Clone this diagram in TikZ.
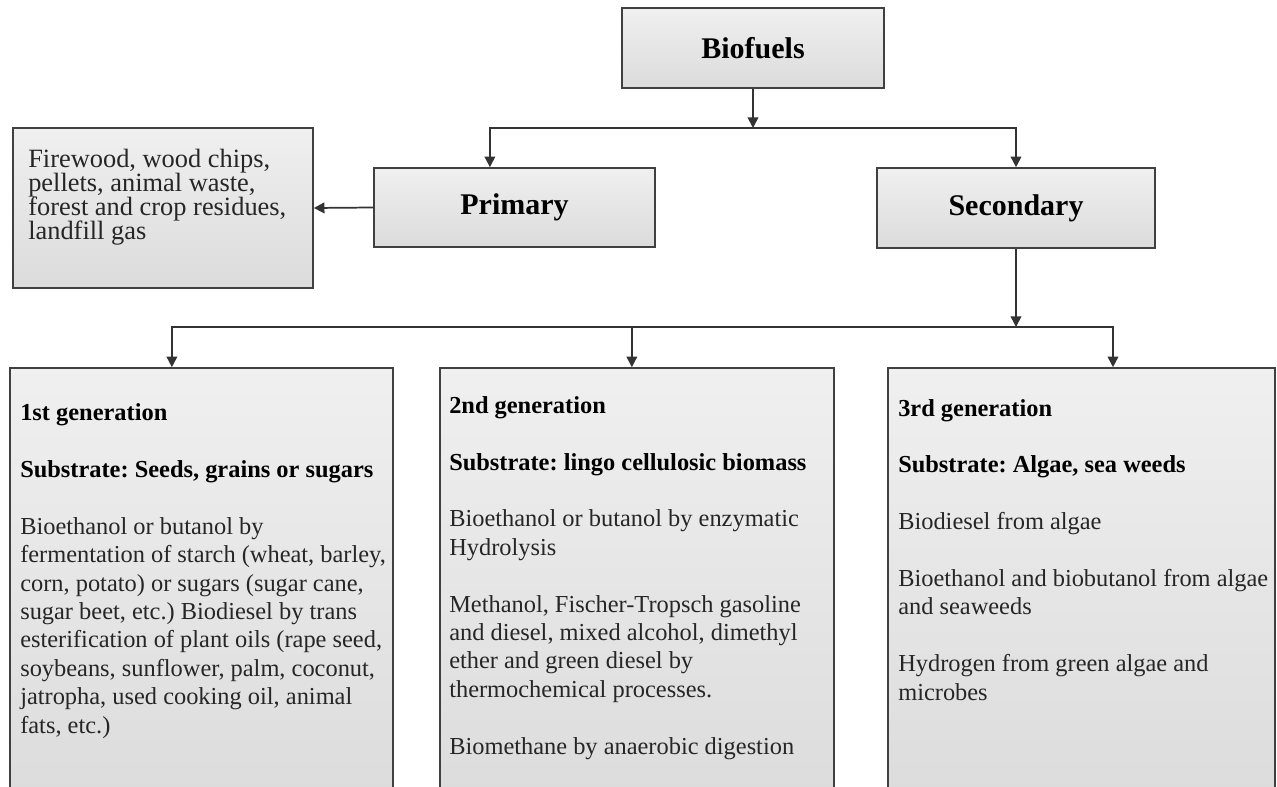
\documentclass[tikz,border=0pt]{standalone}
\usepackage{fontspec}
\setmainfont{Liberation Serif}
\usetikzlibrary{arrows.meta,calc}
\frenchspacing
\begin{document}
\begin{tikzpicture}[x=0.75pt,y=-0.75pt,
  box/.style={draw=black!75, line width=1.2pt, top color=black!6, bottom color=black!14, inner sep=0pt},
  title/.style={font=\fontsize{22.5}{27}\selectfont\bfseries},
  conn/.style={line width=1.3pt, draw=black!80, -{Triangle[length=8pt,width=8pt]}},
  txt/.style={align=left, anchor=base west, inner sep=0pt, text=black!85, font=\fontsize{18.3}{21.3}\selectfont},
  ltxt/.style={align=left, anchor=base west, inner sep=0pt, text=black!85, font=\fontsize{19.8}{18.2}\selectfont}]
\clip (0,0) rectangle (1277,787);
\fill[white] (0,0) rectangle (1277,787);

% top level
\node[box, minimum width=196.5pt, minimum height=60pt, title] (bio) at (753,48) {Biofuels};
\node[box, minimum width=210.75pt, minimum height=59.25pt, title] (prim) at (514.5,207.5) {Primary};
\node[box, minimum width=208.5pt, minimum height=60pt, title] (sec) at (1016,208) {Secondary};
\node[box, minimum width=225pt, minimum height=120pt] (left) at (163,208) {};
% anchor is the baseline of the last line
\node[ltxt] (lefttxt) at (28,240) {Firewood, wood chips,\\pellets, animal waste,\\forest and crop residues,\\landfill gas};

% generation boxes
\node[box, minimum width=287.25pt, minimum height=331.5pt] (b1) at (201.5,589) {};
\node[box, minimum width=295.5pt, minimum height=331.5pt] (b2) at (637,589) {};
\node[box, minimum width=290.25pt, minimum height=331.5pt] (b3) at (1081.5,589) {};

\node[txt] (t1) at (20,733) {\textbf{\color{black}1st generation}\\[21.3pt]
\textbf{\color{black}Substrate: Seeds, grains or sugars}\\[21.3pt]
Bioethanol or butanol by\\
fermentation of starch (wheat, barley,\\
corn, potato) or sugars (sugar cane,\\
sugar beet, etc.) Biodiesel by trans\\
esterification of plant oils (rape seed,\\
soybeans, sunflower, palm, coconut,\\
jatropha, used cooking oil, animal\\
fats, etc.)};

\node[txt] (t2) at (449,754) {\textbf{\color{black}2nd generation}\\[21.3pt]
\textbf{\color{black}Substrate: lingo cellulosic biomass}\\[21.3pt]
Bioethanol or butanol by enzymatic\\
Hydrolysis\\[21.3pt]
Methanol, Fischer-Tropsch gasoline\\
and diesel, mixed alcohol, dimethyl\\
ether and green diesel by\\
thermochemical processes.\\[21.3pt]
Biomethane by anaerobic digestion};

\node[txt] (t3) at (898,700) {\textbf{\color{black}3rd generation}\\[21.3pt]
\textbf{\color{black}Substrate: Algae, sea weeds}\\[21.3pt]
Biodiesel from algae\\[21.3pt]
Bioethanol and biobutanol from algae\\
and seaweeds\\[21.3pt]
Hydrogen from green algae and\\
microbes};

% connectors
\coordinate (h1) at (753,128);
\coordinate (pin) at ($(prim.north west)!0.413!(prim.north east)$);
\draw[conn] (bio.south) -- (h1);
\draw[conn] (h1) -| (pin);
\draw[conn] (h1) -| (sec.north);
\draw[conn] (prim.west) -- (left.east);

\coordinate (h2) at (1016,327);
\coordinate (b1in) at ($(b1.north west)!0.423!(b1.north east)$);
\coordinate (b2in) at ($(b2.north west)!0.487!(b2.north east)$);
\coordinate (b3in) at ($(b3.north west)!0.581!(b3.north east)$);
\coordinate (h2b) at (b2in |- h2);
\draw[conn] (sec.south) -- (h2);
\draw[conn] (h2) -| (b1in);
\draw[conn] (h2) -| (b3in);
\draw[conn] (h2b) -- (b2in);
\end{tikzpicture}
\end{document}
